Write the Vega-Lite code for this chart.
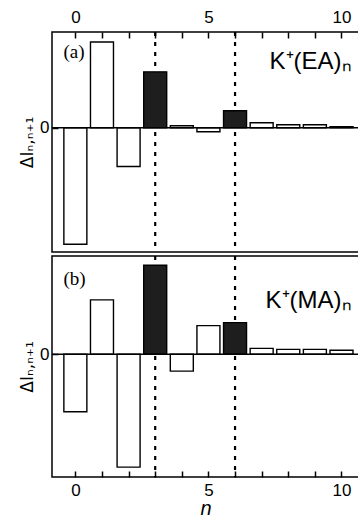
{
  "$schema": "https://vega.github.io/schema/vega-lite/v6.json",
  "background": "white",
  "padding": {"left": 17, "top": 7, "right": 0, "bottom": 0},
  "autosize": {"type": "pad"},
  "spacing": 0,
  "datasets": {
    "bars": [
      {"panel": "a", "n": 0, "v": -117, "dark": "no"},
      {"panel": "a", "n": 1, "v": 86, "dark": "no"},
      {"panel": "a", "n": 2, "v": -39, "dark": "no"},
      {"panel": "a", "n": 3, "v": 56, "dark": "yes"},
      {"panel": "a", "n": 4, "v": 2, "dark": "no"},
      {"panel": "a", "n": 5, "v": -4, "dark": "no"},
      {"panel": "a", "n": 6, "v": 17, "dark": "yes"},
      {"panel": "a", "n": 7, "v": 5, "dark": "no"},
      {"panel": "a", "n": 8, "v": 3, "dark": "no"},
      {"panel": "a", "n": 9, "v": 3, "dark": "no"},
      {"panel": "a", "n": 10, "v": 1, "dark": "no"},
      {"panel": "b", "n": 0, "v": -58, "dark": "no"},
      {"panel": "b", "n": 1, "v": 55, "dark": "no"},
      {"panel": "b", "n": 2, "v": -114, "dark": "no"},
      {"panel": "b", "n": 3, "v": 90, "dark": "yes"},
      {"panel": "b", "n": 4, "v": -17, "dark": "no"},
      {"panel": "b", "n": 5, "v": 29, "dark": "no"},
      {"panel": "b", "n": 6, "v": 32, "dark": "yes"},
      {"panel": "b", "n": 7, "v": 6, "dark": "no"},
      {"panel": "b", "n": 8, "v": 5, "dark": "no"},
      {"panel": "b", "n": 9, "v": 5, "dark": "no"},
      {"panel": "b", "n": 10, "v": 4, "dark": "no"}
    ],
    "lines": [{"n": 3}, {"n": 6}],
    "one": [{"k": 1}]
  },
  "config": {
    "view": {"stroke": "black", "strokeWidth": 1.5},
    "font": "Liberation Sans",
    "axis": {
      "domain": false,
      "grid": false,
      "ticks": true,
      "tickColor": "black",
      "tickOpacity": 1,
      "labelColor": "black",
      "titleColor": "black",
      "labelFont": "Liberation Sans",
      "titleFont": "DejaVu Sans",
      "labelFontSize": 17,
      "titleFontSize": 17,
      "titleFontWeight": "normal",
      "labelOverlap": false,
      "zindex": 1
    }
  },
  "vconcat": [
    {
      "width": 307,
      "height": 220,
      "layer": [
        {
          "data": {"name": "lines"},
          "mark": {"type": "rule", "color": "black", "strokeWidth": 2.2, "strokeDash": [4, 6]},
          "encoding": {
            "x": {"field": "n", "type": "quantitative", "scale": {"domain": [-0.69, 10.47], "nice": false, "zero": false},
              "axis": {"orient": "top", "values": [0,1,2,3,4,5,6,7,8,9,10], "labelExpr": "datum.value % 5 === 0 ? datum.label : ''", "labelOverlap": false, "offset": -6, "tickSize": 6, "labelPadding": 6, "tickWidth": 1.5, "title": null}}
          }
        },
        {
          "data": {"name": "bars"},
          "transform": [{"filter": "datum.panel === 'a'"}],
          "mark": {"type": "bar", "size": 23, "stroke": "black", "strokeWidth": 1.4},
          "encoding": {
            "x": {"field": "n", "type": "quantitative", "scale": {"domain": [-0.69, 10.47], "nice": false, "zero": false},
              "axis": {"orient": "top", "values": [0,1,2,3,4,5,6,7,8,9,10], "labelExpr": "datum.value % 5 === 0 ? datum.label : ''", "labelOverlap": false, "offset": -6, "tickSize": 6, "labelPadding": 6, "tickWidth": 1.5, "title": null}},
            "y": {"field": "v", "type": "quantitative", "scale": {"domain": [-124.7, 96], "nice": false, "zero": false},
              "axis": {"values": [0], "offset": -6, "tickSize": 6, "labelPadding": 3, "tickWidth": 1.5, "title": "ΔIₙ,ₙ₊₁", "titlePadding": 3}},
            "fill": {"field": "dark", "type": "nominal", "scale": {"domain": ["no", "yes"], "range": ["white", "#1e1e1e"]}, "legend": null}
          }
        },
        {
          "data": {"name": "one"},
          "mark": {"type": "rule", "color": "black", "strokeWidth": 1.5},
          "encoding": {"y": {"datum": 0, "type": "quantitative",
              "axis": {"values": [0], "offset": -6, "tickSize": 6, "labelPadding": 3, "tickWidth": 1.5, "title": "ΔIₙ,ₙ₊₁", "titlePadding": 3}}}
        },
        {
          "data": {"name": "one"},
          "mark": {"type": "text", "font": "Liberation Serif", "fontSize": 19, "align": "left", "baseline": "middle", "color": "black"},
          "encoding": {
            "x": {"datum": -0.45, "type": "quantitative",
              "axis": {"orient": "top", "values": [0,1,2,3,4,5,6,7,8,9,10], "labelExpr": "datum.value % 5 === 0 ? datum.label : ''", "labelOverlap": false, "offset": -6, "tickSize": 6, "labelPadding": 6, "tickWidth": 1.5, "title": null}},
            "y": {"datum": 76, "type": "quantitative",
              "axis": {"values": [0], "offset": -6, "tickSize": 6, "labelPadding": 3, "tickWidth": 1.5, "title": "ΔIₙ,ₙ₊₁", "titlePadding": 3}},
            "text": {"value": "(a)"}}
        },
        {
          "data": {"name": "one"},
          "mark": {"type": "text", "font": "Liberation Sans", "fontSize": 24, "align": "right", "baseline": "middle", "color": "black"},
          "encoding": {
            "x": {"datum": 10.38, "type": "quantitative",
              "axis": {"orient": "top", "values": [0,1,2,3,4,5,6,7,8,9,10], "labelExpr": "datum.value % 5 === 0 ? datum.label : ''", "labelOverlap": false, "offset": -6, "tickSize": 6, "labelPadding": 6, "tickWidth": 1.5, "title": null}},
            "y": {"datum": 66, "type": "quantitative",
              "axis": {"values": [0], "offset": -6, "tickSize": 6, "labelPadding": 3, "tickWidth": 1.5, "title": "ΔIₙ,ₙ₊₁", "titlePadding": 3}},
            "text": {"value": "K⁺(EA)ₙ"}}
        }
      ]
    },
    {
      "width": 307,
      "height": 221,
      "layer": [
        {
          "data": {"name": "lines"},
          "mark": {"type": "rule", "color": "black", "strokeWidth": 2.2, "strokeDash": [4, 6]},
          "encoding": {
            "x": {"field": "n", "type": "quantitative", "scale": {"domain": [-0.69, 10.47], "nice": false, "zero": false},
              "axis": {"orient": "bottom", "values": [0,1,2,3,4,5,6,7,8,9,10], "labelExpr": "datum.value % 5 === 0 ? datum.label : ''", "labelOverlap": false, "offset": -6, "tickSize": 6, "labelPadding": 5, "tickWidth": 1.5, "title": "n", "titleFont": "Liberation Sans", "titleFontStyle": "italic", "titleFontSize": 20, "titlePadding": 0}}
          }
        },
        {
          "data": {"name": "bars"},
          "transform": [{"filter": "datum.panel === 'b'"}],
          "mark": {"type": "bar", "size": 23, "stroke": "black", "strokeWidth": 1.4},
          "encoding": {
            "x": {"field": "n", "type": "quantitative", "scale": {"domain": [-0.69, 10.47], "nice": false, "zero": false},
              "axis": {"orient": "bottom", "values": [0,1,2,3,4,5,6,7,8,9,10], "labelExpr": "datum.value % 5 === 0 ? datum.label : ''", "labelOverlap": false, "offset": -6, "tickSize": 6, "labelPadding": 5, "tickWidth": 1.5, "title": "n", "titleFont": "Liberation Sans", "titleFontStyle": "italic", "titleFontSize": 20, "titlePadding": 0}},
            "y": {"field": "v", "type": "quantitative", "scale": {"domain": [-124, 99.3], "nice": false, "zero": false},
              "axis": {"values": [0], "offset": -6, "tickSize": 6, "labelPadding": 3, "tickWidth": 1.5, "title": "ΔIₙ,ₙ₊₁", "titlePadding": 3}},
            "fill": {"field": "dark", "type": "nominal", "scale": {"domain": ["no", "yes"], "range": ["white", "#1e1e1e"]}, "legend": null}
          }
        },
        {
          "data": {"name": "one"},
          "mark": {"type": "rule", "color": "black", "strokeWidth": 1.5},
          "encoding": {"y": {"datum": 0, "type": "quantitative",
              "axis": {"values": [0], "offset": -6, "tickSize": 6, "labelPadding": 3, "tickWidth": 1.5, "title": "ΔIₙ,ₙ₊₁", "titlePadding": 3}}}
        },
        {
          "data": {"name": "one"},
          "mark": {"type": "text", "font": "Liberation Serif", "fontSize": 19, "align": "left", "baseline": "middle", "color": "black"},
          "encoding": {
            "x": {"datum": -0.45, "type": "quantitative",
              "axis": {"orient": "bottom", "values": [0,1,2,3,4,5,6,7,8,9,10], "labelExpr": "datum.value % 5 === 0 ? datum.label : ''", "labelOverlap": false, "offset": -6, "tickSize": 6, "labelPadding": 5, "tickWidth": 1.5, "title": "n", "titleFont": "Liberation Sans", "titleFontStyle": "italic", "titleFontSize": 20, "titlePadding": 0}},
            "y": {"datum": 76, "type": "quantitative",
              "axis": {"values": [0], "offset": -6, "tickSize": 6, "labelPadding": 3, "tickWidth": 1.5, "title": "ΔIₙ,ₙ₊₁", "titlePadding": 3}},
            "text": {"value": "(b)"}}
        },
        {
          "data": {"name": "one"},
          "mark": {"type": "text", "font": "Liberation Sans", "fontSize": 24, "align": "right", "baseline": "middle", "color": "black"},
          "encoding": {
            "x": {"datum": 10.38, "type": "quantitative",
              "axis": {"orient": "bottom", "values": [0,1,2,3,4,5,6,7,8,9,10], "labelExpr": "datum.value % 5 === 0 ? datum.label : ''", "labelOverlap": false, "offset": -6, "tickSize": 6, "labelPadding": 5, "tickWidth": 1.5, "title": "n", "titleFont": "Liberation Sans", "titleFontStyle": "italic", "titleFontSize": 20, "titlePadding": 0}},
            "y": {"datum": 54, "type": "quantitative",
              "axis": {"values": [0], "offset": -6, "tickSize": 6, "labelPadding": 3, "tickWidth": 1.5, "title": "ΔIₙ,ₙ₊₁", "titlePadding": 3}},
            "text": {"value": "K⁺(MA)ₙ"}}
        }
      ]
    }
  ]
}
